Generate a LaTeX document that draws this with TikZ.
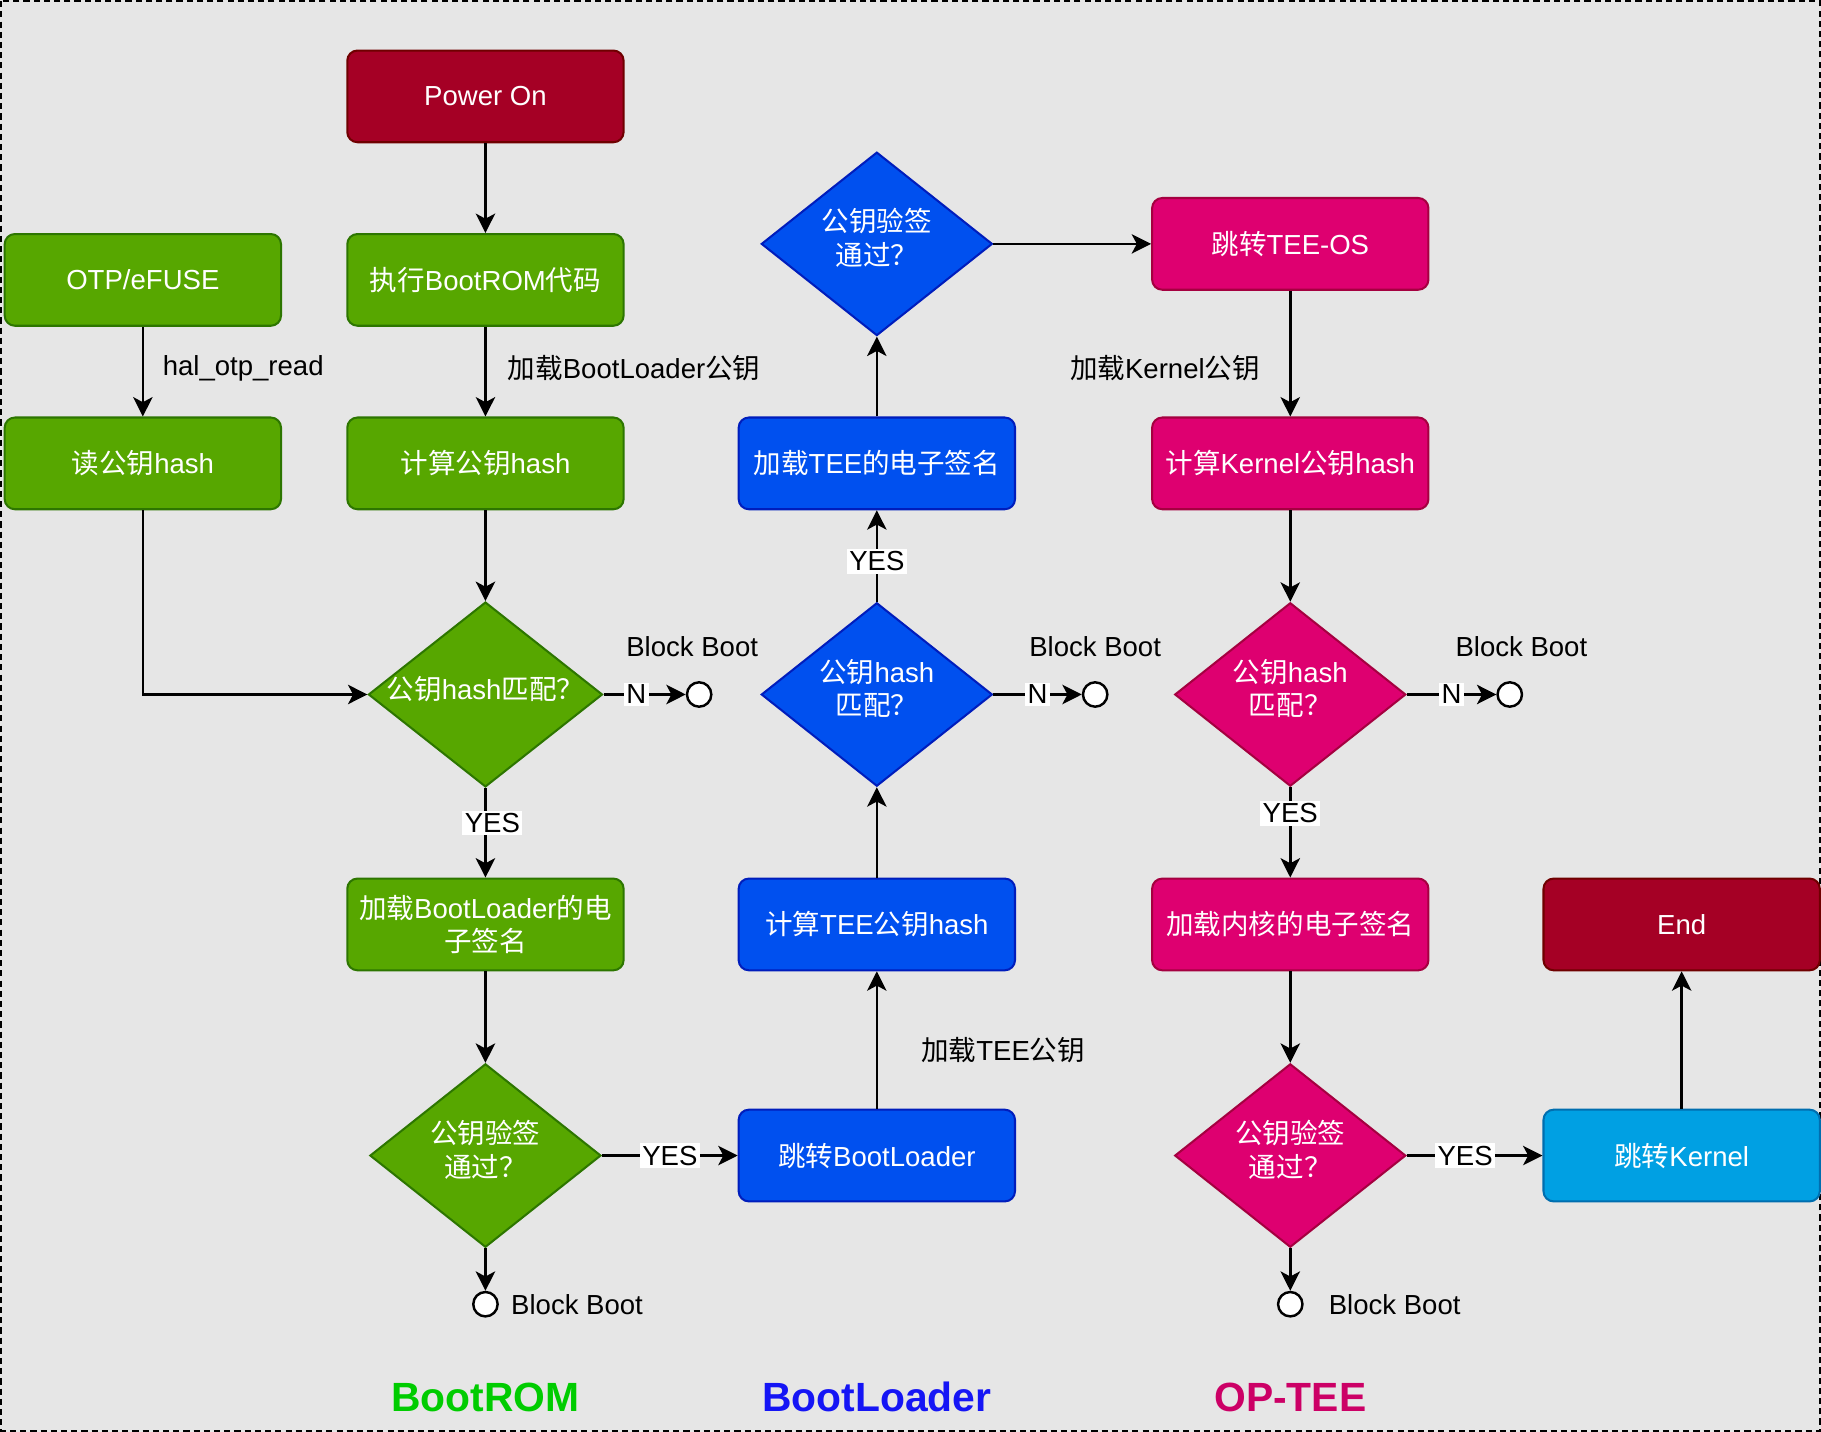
\documentclass[tikz,border=0pt]{standalone}
\usepackage{fontspec}
\setmainfont{Liberation Sans}
\newfontfamily\hanfnt{Noto Sans CJK SC}
\newfontfamily\latfnt{Liberation Sans}
\usetikzlibrary{shapes.geometric,arrows.meta}

\newcount\hancode
\newXeTeXintercharclass\hanclass
\hancode="4E00
\loop
  \XeTeXcharclass\hancode=\hanclass
  \ifnum\hancode<"9FFF
  \advance\hancode by 1
\repeat
\XeTeXcharclass"FF1F=\hanclass
\XeTeXinterchartokenstate=1
\XeTeXinterchartoks 0 \hanclass = {\hanfnt}
\XeTeXinterchartoks 4095 \hanclass = {\hanfnt}
\XeTeXinterchartoks \hanclass 0 = {\latfnt}
\XeTeXinterchartoks \hanclass 4095 = {\latfnt}

\newcommand\lift[1]{\raisebox{2.8pt}[0.9em][0.15em]{#1}}

\definecolor{pagebg}{HTML}{E6E6E6}
\definecolor{rombg}{HTML}{57A700}
\definecolor{romln}{HTML}{2D7600}
\definecolor{blbg}{HTML}{0050EF}
\definecolor{blln}{HTML}{001DBC}
\definecolor{teebg}{HTML}{DE0070}
\definecolor{teeln}{HTML}{A50040}
\definecolor{knbg}{HTML}{00A0E3}
\definecolor{knln}{HTML}{006EAF}
\definecolor{endbg}{HTML}{A50025}
\definecolor{endln}{HTML}{6F0000}
\definecolor{romtitle}{HTML}{00CC00}
\definecolor{bltitle}{HTML}{1515F5}
\definecolor{teetitle}{HTML}{CC0066}

\begin{document}
\begin{tikzpicture}[x=0.02cm,y=-0.02cm,
  font=\fontsize{13.5}{16.5}\selectfont,
  blk/.style={rectangle,rounded corners=5pt,minimum width=4.76cm,minimum height=1.58cm,text=white,align=center,line width=1pt},
  rombox/.style={blk,fill=rombg,draw=romln},
  blbox/.style={blk,fill=blbg,draw=blln},
  teebox/.style={blk,fill=teebg,draw=teeln},
  knbox/.style={blk,fill=knbg,draw=knln},
  endbox/.style={blk,fill=endbg,draw=endln},
  chk/.style={diamond,aspect=1.266,minimum width=3.98cm,minimum height=3.16cm,inner sep=0pt,text=white,align=center,line width=1pt},
  romchk/.style={chk,fill=rombg,draw=romln},
  blchk/.style={chk,fill=blbg,draw=blln},
  teechk/.style={chk,fill=teebg,draw=teeln},
  halt/.style={circle,draw=black,fill=white,minimum size=0.42cm,inner sep=0pt,line width=1.2pt},
  flow/.style={-{Stealth[length=9.5pt,width=9.5pt,inset=2.5pt]},line width=1.2pt},
  tag/.style={fill=white,inner sep=1.2pt},
  title/.style={font=\fontsize{20}{24}\selectfont\bfseries}]

\useasboundingbox (0,0) rectangle (1568,1233);
\fill[pagebg] (0,0) rectangle (1568,1233);
\draw[dash pattern=on 3pt off 2pt,line width=0.8pt] (1,1) rectangle (1567,1232);

\node[endbox] (power) at (418,83) {Power On};
\node[rombox] (otp) at (123,241) {OTP/eFUSE};
\node[rombox] (bootrom) at (418,241) {执行BootROM代码};
\node[rombox] (readhash) at (123,399) {读公钥hash};
\node[rombox] (romhash) at (418,399) {计算公钥hash};
\node[romchk] (romhashok) at (418,598) {\lift{公钥hash匹配？}};
\node[halt] (romstop1) at (602,598) {};
\node[rombox] (blsig) at (418,796) {加载BootLoader的电\\子签名};
\node[romchk] (romsigok) at (418,995) {\lift{公钥验签}\\\lift{通过？}};
\node[halt] (romstop2) at (418,1123) {};

\node[blbox] (jumpbl) at (755,995) {跳转BootLoader};
\node[blbox] (teehash) at (755,796) {计算TEE公钥hash};
\node[blchk] (blhashok) at (755,598) {\lift{公钥hash}\\\lift{匹配？}};
\node[halt] (blstop) at (943,598) {};
\node[blbox] (teesig) at (755,399) {加载TEE的电子签名};
\node[blchk] (blsigok) at (755,210) {\lift{公钥验签}\\\lift{通过？}};

\node[teebox] (jumptee) at (1111,210) {跳转TEE-OS};
\node[teebox] (kernhash) at (1111,399) {计算Kernel公钥hash};
\node[teechk] (teehashok) at (1111,598) {\lift{公钥hash}\\\lift{匹配？}};
\node[halt] (teestop1) at (1300,598) {};
\node[teebox] (kernsig) at (1111,796) {加载内核的电子签名};
\node[teechk] (teesigok) at (1111,995) {\lift{公钥验签}\\\lift{通过？}};
\node[halt] (teestop2) at (1111,1123) {};
\node[knbox] (jumpkern) at (1448,995) {跳转Kernel};
\node[endbox] (theend) at (1448,796) {End};

\node[anchor=west] (otplbl) at (134,317) {hal\_otp\_read};
\node[anchor=west] (bllbl) at (431,317) {加载BootLoader公钥};
\node[anchor=east] (kernlbl) at (1091,317) {加载Kernel公钥};
\node[anchor=west] (teelbl) at (787,904) {加载TEE公钥};
\node (bb1) at (596,557) {Block Boot};
\node (bb2) at (943,557) {Block Boot};
\node (bb3) at (1310,557) {Block Boot};
\node[anchor=west] (bb4) at (434,1123) {Block Boot};
\node[anchor=west] (bb5) at (1138,1123) {Block Boot};

\node[title,text=romtitle] (romname) at (418,1203) {BootROM};
\node[title,text=bltitle] (blname) at (755,1203) {BootLoader};
\node[title,text=teetitle] (teename) at (1111,1203) {OP-TEE};

\draw[flow] (power) -- (bootrom);
\draw[flow] (otp) -- (readhash);
\draw[flow] (bootrom) -- (romhash);
\draw[flow] (romhash) -- (romhashok);
\draw[flow] (readhash) |- (romhashok);
\draw[flow] (romhashok) -- node[tag,pos=0.4]{N} (romstop1);
\draw[flow] (romhashok) -- node[tag,pos=0.39,xshift=0.12cm]{YES} (blsig);
\draw[flow] (blsig) -- (romsigok);
\draw[flow] (romsigok) -- node[tag]{YES} (jumpbl);
\draw[flow] (romsigok) -- (romstop2);

\draw[flow] (jumpbl) -- (teehash);
\draw[flow] (teehash) -- (blhashok);
\draw[flow] (blhashok) -- node[tag]{N} (blstop);
\draw[flow] (blhashok) -- node[tag,pos=0.44]{YES} (teesig);
\draw[flow] (teesig) -- (blsigok);
\draw[flow] (blsigok) -- (jumptee);

\draw[flow] (jumptee) -- (kernhash);
\draw[flow] (kernhash) -- (teehashok);
\draw[flow] (teehashok) -- node[tag]{N} (teestop1);
\draw[flow] (teehashok) -- node[tag,pos=0.29]{YES} (kernsig);
\draw[flow] (kernsig) -- (teesigok);
\draw[flow] (teesigok) -- node[tag,pos=0.43]{YES} (jumpkern);
\draw[flow] (teesigok) -- (teestop2);
\draw[flow] (jumpkern) -- (theend);

\end{tikzpicture}
\end{document}
